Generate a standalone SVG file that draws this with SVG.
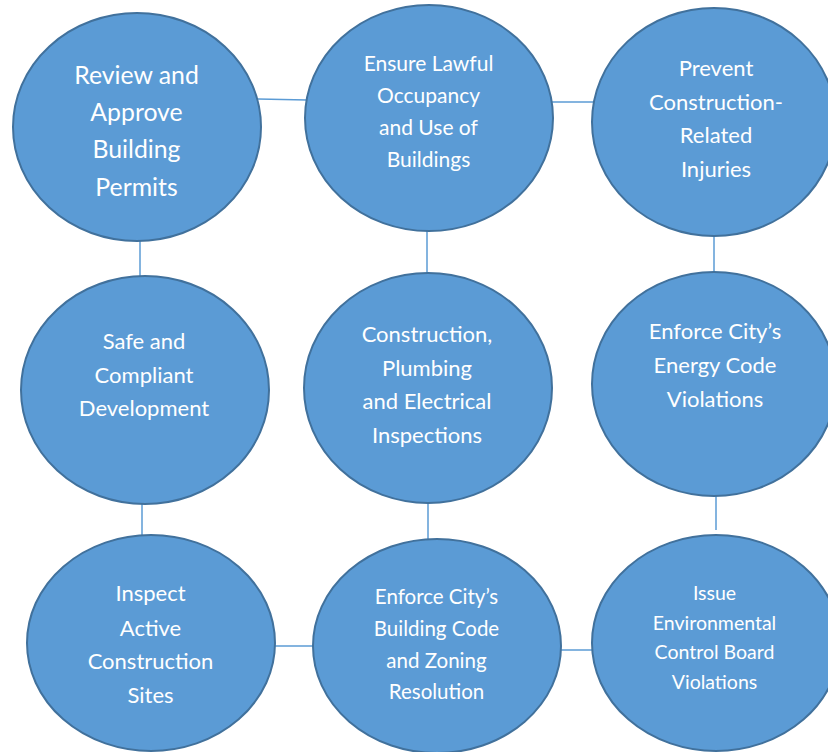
<svg xmlns="http://www.w3.org/2000/svg" width="828" height="752" viewBox="0 0 828 752">
<style>
.node ellipse{fill:#5B9BD5;stroke:#41719C;stroke-width:2}
.node text{fill:#FFFFFF;font-family:Lato,"Open Sans","Liberation Sans",sans-serif;text-anchor:middle}
#connectors line{stroke:#5B9BD5;stroke-width:1.5}
</style>
<rect width="828" height="752" fill="#FFFFFF"/>
<g id="connectors">
<line x1="258" y1="99" x2="307" y2="100"/>
<line x1="551" y1="102" x2="594" y2="102"/>
<line x1="140" y1="240" x2="140" y2="277"/>
<line x1="427" y1="231" x2="427" y2="274"/>
<line x1="714" y1="235" x2="714" y2="273"/>
<line x1="142" y1="503" x2="142" y2="536"/>
<line x1="428" y1="502" x2="428" y2="540"/>
<line x1="716" y1="495" x2="716" y2="530"/>
<line x1="274" y1="646" x2="315" y2="646"/>
<line x1="560" y1="650" x2="592" y2="650"/>
</g>
<g id="n1" class="node"><ellipse cx="137" cy="127" rx="124" ry="114"/>
<text font-size="24.8"><tspan x="136.5" y="84">Review and</tspan><tspan x="136.5" y="121">Approve</tspan><tspan x="136.5" y="158">Building</tspan><tspan x="136.5" y="196">Permits</tspan></text></g>
<g id="n2" class="node"><ellipse cx="429" cy="118" rx="124" ry="113"/>
<text font-size="21"><tspan x="428.5" y="71">Ensure Lawful</tspan><tspan x="428.5" y="103">Occupancy</tspan><tspan x="428.5" y="135">and Use of</tspan><tspan x="428.5" y="167">Buildings</tspan></text></g>
<g id="n3" class="node"><ellipse cx="714" cy="122" rx="122" ry="114"/>
<text font-size="22"><tspan x="716" y="76">Prevent</tspan><tspan x="716" y="110">Construction-</tspan><tspan x="716" y="143">Related</tspan><tspan x="716" y="177">Injuries</tspan></text></g>
<g id="n4" class="node"><ellipse cx="145" cy="390" rx="124" ry="114"/>
<text font-size="22"><tspan x="144" y="349">Safe and</tspan><tspan x="144" y="383">Compliant</tspan><tspan x="144" y="416">Development</tspan></text></g>
<g id="n5" class="node"><ellipse cx="428" cy="388" rx="124" ry="115"/>
<text font-size="22"><tspan x="427" y="342">Construction,</tspan><tspan x="427" y="376">Plumbing</tspan><tspan x="427" y="409">and Electrical</tspan><tspan x="427" y="443">Inspections</tspan></text></g>
<g id="n6" class="node"><ellipse cx="714" cy="384" rx="122" ry="112"/>
<text font-size="22"><tspan x="715" y="339">Enforce City’s</tspan><tspan x="715" y="373">Energy Code</tspan><tspan x="715" y="407">Violations</tspan></text></g>
<g id="n7" class="node"><ellipse cx="151" cy="643" rx="124" ry="108"/>
<text font-size="22"><tspan x="150.5" y="601">Inspect</tspan><tspan x="150.5" y="636">Active</tspan><tspan x="150.5" y="669">Construction</tspan><tspan x="150.5" y="703">Sites</tspan></text></g>
<g id="n8" class="node"><ellipse cx="437" cy="646" rx="124" ry="107"/>
<text font-size="20.5"><tspan x="436.5" y="604">Enforce City’s</tspan><tspan x="436.5" y="636">Building Code</tspan><tspan x="436.5" y="668">and Zoning</tspan><tspan x="436.5" y="699">Resolution</tspan></text></g>
<g id="n9" class="node"><ellipse cx="716" cy="643" rx="124" ry="108"/>
<text font-size="19.5"><tspan x="714.5" y="600">Issue</tspan><tspan x="714.5" y="630">Environmental</tspan><tspan x="714.5" y="659">Control Board</tspan><tspan x="714.5" y="689">Violations</tspan></text></g>
</svg>
